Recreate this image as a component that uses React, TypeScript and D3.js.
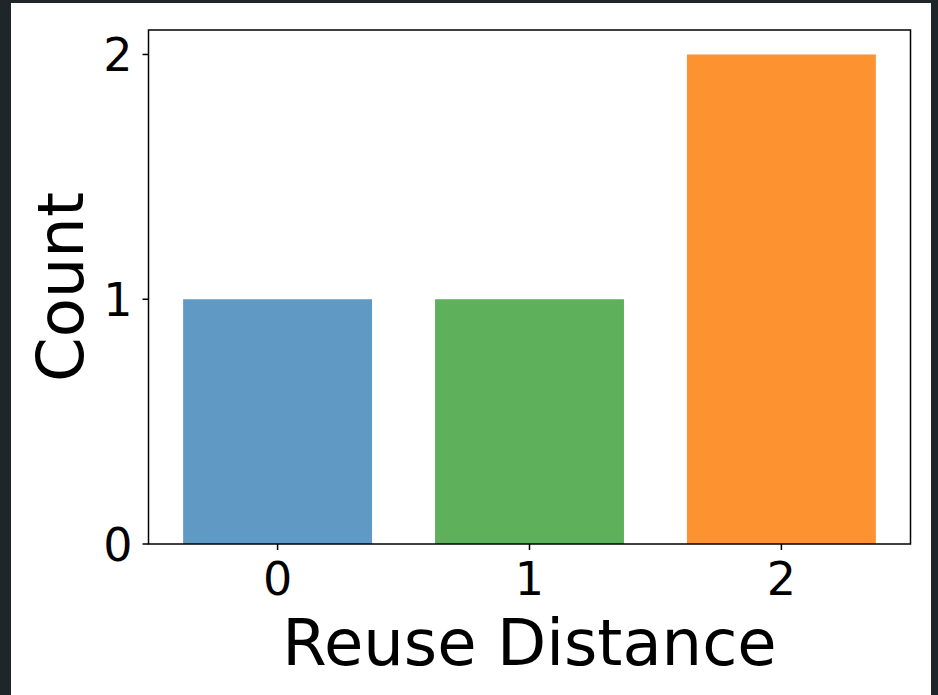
import React from "react";
import * as d3 from "d3";

const categories = [0, 1, 2];
const counts = [1, 1, 2];
const barColors = ["#6099c4", "#5fb05a", "#fd9230"];
const yTicks = [0, 1, 2];
const xLabel = "Reuse Distance";
const yLabel = "Count";

const W = 938;
const H = 695;
const margin = { left: 148.5, right: 910.5, top: 30, bottom: 544 };
const barWidth = 0.75;

export default function App() {
  const x = d3
    .scaleLinear()
    .domain([-0.5125, 2.5125])
    .range([margin.left, margin.right]);
  const y = d3.scaleLinear().domain([0, 2.1]).range([margin.bottom, margin.top]);
  const font = "'DejaVu Sans', sans-serif";

  return (
    <svg
      width={W}
      height={H}
      style={{ position: "absolute", left: 0, top: 0 }}
      fontFamily={font}
    >
      <rect x={0} y={0} width={W} height={H} fill="#1f2629" />
      <rect x={11} y={3} width={920} height={H - 3} fill="#ffffff" />

      {categories.map((c, i) => (
        <rect
          key={c}
          x={x(c - barWidth / 2)}
          y={y(counts[i])}
          width={x(c + barWidth / 2) - x(c - barWidth / 2)}
          height={y(0) - y(counts[i])}
          fill={barColors[i]}
        />
      ))}

      <rect
        x={margin.left}
        y={margin.top}
        width={margin.right - margin.left}
        height={margin.bottom - margin.top}
        fill="none"
        stroke="#000"
        strokeWidth={1.5}
      />

      {yTicks.map((t) => (
        <g key={"y" + t}>
          <line
            x1={margin.left - 6}
            x2={margin.left}
            y1={y(t)}
            y2={y(t)}
            stroke="#000"
            strokeWidth={1.5}
          />
          <text
            x={margin.left - 16}
            y={y(t)}
            dy="0.36em"
            textAnchor="end"
            fontSize={46}
            fill="#000"
          >
            {t}
          </text>
        </g>
      ))}

      {categories.map((c) => (
        <g key={"x" + c}>
          <line
            x1={x(c)}
            x2={x(c)}
            y1={margin.bottom}
            y2={margin.bottom + 6}
            stroke="#000"
            strokeWidth={1.5}
          />
          <text
            x={x(c)}
            y={595}
            textAnchor="middle"
            fontSize={46}
            fill="#000"
          >
            {c}
          </text>
        </g>
      ))}

      <text
        x={(margin.left + margin.right) / 2}
        y={665}
        textAnchor="middle"
        fontSize={64}
        fill="#000"
      >
        {xLabel}
      </text>
      <text
        transform={`translate(83, ${(margin.top + margin.bottom) / 2}) rotate(-90)`}
        textAnchor="middle"
        fontSize={64}
        fill="#000"
      >
        {yLabel}
      </text>
    </svg>
  );
}
